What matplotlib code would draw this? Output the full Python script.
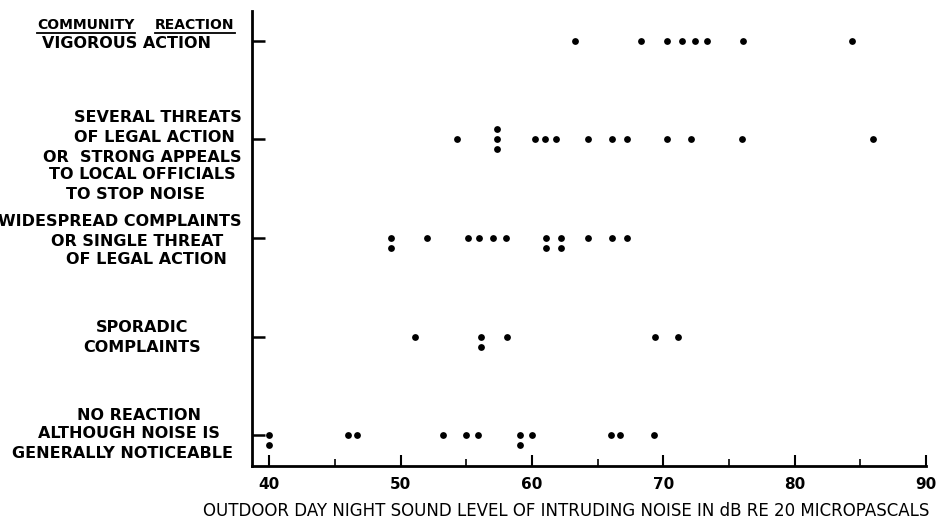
#!/usr/bin/env python3
"""
Community reaction vs outdoor day-night sound level (scanned figure recreation)
"""

import matplotlib
matplotlib.use('Agg')
import matplotlib.pyplot as plt
from matplotlib.lines import Line2D

W, H = 939, 525

# Data: sound levels (dB) observed for each community reaction level
# repeated values are plotted as small vertical stacks
vigorous = [63.3, 68.3, 70.3, 71.4, 72.4, 73.3, 76.1, 84.4]
several_threats = [54.3, 57.3, 57.3, 57.3, 60.2, 61.0, 61.8, 64.3, 66.1,
                   67.2, 70.3, 72.1, 76.0, 86.0]
widespread = [49.3, 49.3, 52.0, 55.1, 56.0, 57.0, 58.0, 61.1, 61.1,
              62.2, 62.2, 64.3, 66.1, 67.2]
sporadic = [51.1, 56.1, 56.1, 58.1, 69.4, 71.1]
no_reaction = [40.0, 40.0, 46.0, 46.7, 53.2, 55.0, 55.9, 59.1, 59.1,
               60.0, 66.0, 66.7, 69.3]

rows = [no_reaction, sporadic, widespread, several_threats, vigorous]

# Row label lines: (text, x centre px, y centre px)
label_lines = [
    ('VIGOROUS ACTION', 127, 43),
    ('SEVERAL THREATS', 158, 118),
    ('OF LEGAL ACTION', 154, 137),
    ('OR  STRONG APPEALS', 142, 157),
    ('TO LOCAL OFFICIALS', 142, 175),
    ('TO STOP NOISE', 136, 194),
    ('WIDESPREAD COMPLAINTS', 120, 221),
    ('OR SINGLE THREAT', 137, 241),
    ('OF LEGAL ACTION', 146, 260),
    ('SPORADIC', 142, 328),
    ('COMPLAINTS', 142, 348),
    ('NO REACTION', 139, 415),
    ('ALTHOUGH NOISE IS', 129, 434),
    ('GENERALLY NOTICEABLE', 122, 453),
]


def fx(px):
    return px / W


def fy(py):
    return 1 - py / H


fig = plt.figure(figsize=(W / 100, H / 100), dpi=100)
fig.patch.set_facecolor('white')

# axes box in pixels: left 252, right 926, top 11, bottom 466
ax = fig.add_axes([fx(252), fy(466), fx(926 - 252), (466 - 11) / H])

step = 0.1
for i, vals in enumerate(rows):
    seen = {}
    xs, ys = [], []
    for v in vals:
        n = seen.get(v, 0)
        seen[v] = n + 1
        off = [0, -step, step][n % 3]
        xs.append(v)
        ys.append(i + off)
    ax.scatter(xs, ys, s=24, color='black', marker='o', linewidths=0, zorder=3)

ax.set_xlim(38.68, 90)
ax.set_ylim(-0.31, 4.30)

for side in ['top', 'right']:
    ax.spines[side].set_visible(False)
for side in ['left', 'bottom']:
    ax.spines[side].set_linewidth(2)

ax.set_yticks(range(5))
ax.set_yticklabels([])
ax.tick_params(axis='y', direction='in', length=9, width=1.8, left=True)

ax.set_xticks(range(40, 91, 10))
ax.set_xticks(range(45, 90, 10), minor=True)
ax.tick_params(axis='x', which='major', direction='in', length=8, width=1.5,
               labelsize=11, pad=8)
ax.tick_params(axis='x', which='minor', direction='in', length=5, width=1.2)
for t in ax.get_xticklabels():
    t.set_fontweight('bold')

# Row labels
for text, px, py in label_lines:
    fig.text(fx(px), fy(py), text, ha='center', va='center',
             fontsize=11.5, fontweight='bold')

# Header with underlined words
t1 = fig.text(fx(86), fy(25), 'COMMUNITY', ha='center', va='center',
              fontsize=10, fontweight='bold')
t2 = fig.text(fx(195), fy(25), 'REACTION', ha='center', va='center',
              fontsize=10, fontweight='bold')

# X axis label
fig.text(fx(566), fy(511),
         'OUTDOOR DAY NIGHT SOUND LEVEL OF INTRUDING NOISE IN dB RE 20 MICROPASCALS',
         ha='center', va='center', fontsize=12)

fig.canvas.draw()
renderer = fig.canvas.get_renderer()
for t in (t1, t2):
    bb = t.get_window_extent(renderer)
    y = bb.y0 - 1
    fig.add_artist(Line2D([bb.x0 / W, bb.x1 / W], [y / H, y / H],
                          color='black', linewidth=1.3))

plt.savefig('out.png', dpi=100, facecolor='white')
plt.close()
